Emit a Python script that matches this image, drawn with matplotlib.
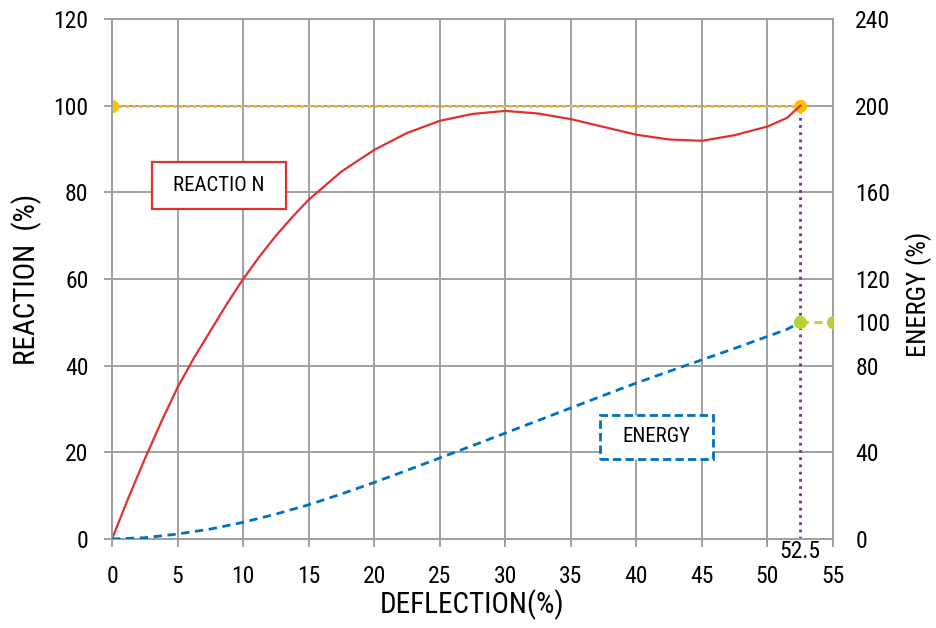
import numpy as np
import matplotlib
matplotlib.use("Agg")
import matplotlib.pyplot as plt
from matplotlib.patches import Rectangle

plt.rcParams['font.family'] = ['Roboto Condensed', 'Liberation Sans', 'DejaVu Sans']

# reaction curve
reaction_x = [0, 1.25, 2.5, 3.75, 5, 6.25, 7.5, 8.75, 10, 11.25, 12.5, 13.75, 15,
              17.5, 20, 22.5, 25, 27.5, 30, 32.5, 35, 37.5, 40, 42.5, 45, 47.5,
              50, 51.5, 52.5]
reaction = [0, 9.5, 18.5, 27, 35, 41.8, 48, 54.2, 60, 65.2, 70, 74.3, 78.3,
            84.8, 89.8, 93.7, 96.5, 98.1, 98.8, 98.2, 96.9, 95.1, 93.3, 92.2, 91.9, 93.2,
            95.2, 97.2, 100]

# energy curve
energy_x = [0, 2.5, 5, 7.5, 10, 12.5, 15, 17.5, 20, 22.5, 25, 27.5,
            30, 32.5, 35, 37.5, 40, 42.5, 45, 47.5, 50, 51.5, 52.5]
energy = [0, 0.6, 2.3, 4.6, 7.7, 11.5, 15.8, 20.8, 26.1, 31.7, 37.4, 43.1,
          48.9, 54.7, 60.5, 66.3, 72, 77.4, 82.7, 88, 93.5, 96.8, 100]

rated_x = [0, 52.5]
rated_reaction = [100, 100]
tail_x = [52.5, 55]
tail_energy = [100, 100]

left_ticks = [0, 20, 40, 60, 80, 100, 120]
right_ticks = [0, 40, 80, 100, 120, 160, 200, 240]
x_ticks = [0, 5, 10, 15, 20, 25, 30, 35, 40, 45, 50, 55]

grid_col = '#a0a0a0'
fs = 17

fig = plt.figure(figsize=(9.36, 6.28), dpi=100)
ax = fig.add_axes([0.1197, 0.1417, 0.7703, 0.828])
ax2 = ax.twinx()

ax.set_xlim(0, 55)
ax.set_ylim(0, 120)
ax2.set_ylim(0, 240)
ax.set_xticks(x_ticks)
ax.set_yticks(left_ticks)
ax2.set_yticks(right_ticks)

ax.grid(True, color=grid_col, linewidth=1.4)
ax.set_axisbelow(True)
for a in (ax, ax2):
    for s in a.spines.values():
        s.set_color(grid_col)
        s.set_linewidth(1.4)
ax.tick_params(axis='x', length=6, width=1.4, color=grid_col, pad=13, labelsize=fs)
ax.tick_params(axis='y', length=6, width=1.4, color=grid_col, pad=11, labelsize=fs)
ax2.tick_params(axis='y', length=0, pad=16, labelsize=fs)

# purple marker line at 52.5
ax.plot([52.5, 52.5], [0, 100], color='#7030a0', lw=2, linestyle=(0, (1, 1.6)), zorder=3)
# rated reaction line
ax.plot(rated_x, rated_reaction, color='#ffc000', lw=2.2, linestyle=(0, (1, 1.2)),
        marker='o', markersize=8.5, zorder=4)
ax.plot(reaction_x, reaction, color='#e03030', lw=1.6, zorder=5)

ax2.plot(energy_x, energy, color='#0070c0', lw=2, linestyle=(0, (3, 2)), zorder=5)
ax2.plot(tail_x, tail_energy, color='#b5d334', lw=2, linestyle=(0, (3, 2)),
         marker='o', markersize=8.5, zorder=5)

ax.text(52.5, -0.002, '52.5', transform=ax.get_xaxis_transform(),
        ha='center', va='top', fontsize=fs, zorder=6)

# label boxes
ax.add_patch(Rectangle((3.05, 76.2), 10.2, 10.9, fc='white', ec='#e03030', lw=1.6, zorder=6))
ax.text(8.16, 81.6, 'REACTIO N', ha='center', va='center', fontsize=15, zorder=7)
ax.add_patch(Rectangle((37.2, 18.5), 8.65, 10.2, fc='white', ec='#0070c0', lw=2,
                       linestyle=(0, (3, 1.5)), zorder=6))
ax.text(41.5, 23.6, 'ENERGY', ha='center', va='center', fontsize=15, zorder=7)

ax.set_xlabel('DEFLECTION(%)', fontsize=21, labelpad=1)
ax.set_ylabel('REACTION  (%)', fontsize=21, labelpad=8)
ax2.set_ylabel('ENERGY (%)', fontsize=19)
ax2.yaxis.set_label_coords(1.1, 0.47)

fig.savefig('out.png', dpi=100)
